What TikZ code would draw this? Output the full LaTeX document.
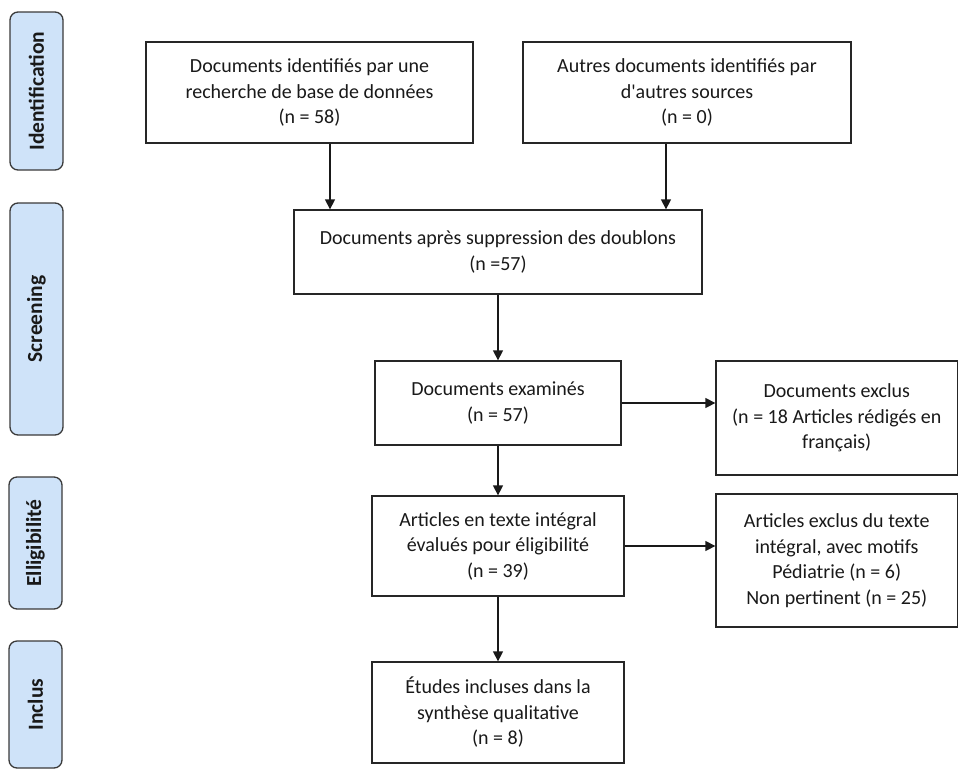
\documentclass[tikz,border=0pt]{standalone}
\usepackage{fontspec}
\setmainfont{Carlito}
\usetikzlibrary{arrows.meta,calc}
\definecolor{tabfill}{HTML}{CFE3F9}
\definecolor{tabline}{HTML}{3A3A3A}
\begin{document}
\begin{tikzpicture}[x=1pt,y=-1pt,
  box/.style={draw=black!85,line width=1.3pt,rectangle,align=center,inner sep=0pt,
    font=\fontsize{20}{25.5}\selectfont,text=black!90},
  tab/.style={draw=tabline,fill=tabfill,line width=1.3pt,rounded corners=8pt,
    minimum width=53pt,inner sep=0pt},
  tablabel/.style={rotate=90,font=\fontsize{21.5}{25}\selectfont\bfseries,text=black!90},
  arr/.style={draw=black!90,line width=1.3pt,-{Triangle[length=10pt,width=10pt]}}]
\useasboundingbox (0,0) rectangle (958,769);
% phase tabs
\node[tab,minimum height=158pt] (t1) at (36.5,91) {};
\node[tablabel] (l1) at (t1.center) {Identification};
\node[tab,minimum height=232pt] (t2) at (36.5,319) {};
\node[tablabel] (l2) at (t2.center) {Screening};
\node[tab,minimum height=132pt] (t3) at (35.5,543) {};
\node[tablabel] (l3) at (t3.center) {Elligibilité};
\node[tab,minimum height=127pt] (t4) at (35.5,704.5) {};
\node[tablabel] (l4) at (t4.center) {Inclus};
% boxes
\node[box,minimum width=327pt,minimum height=101pt] (b1) at (309.5,92.5)
  {Documents identifiés par une\\recherche de base de données\\(n = 58)};
\node[box,minimum width=328pt,minimum height=101pt] (b2) at (687,92.5)
  {Autres documents identifiés par\\d\textquotesingle autres sources\\(n = 0)};
\node[box,minimum width=408pt,minimum height=84pt] (b3) at (498,252)
  {Documents après suppression des doublons\\(n =57)};
\node[box,minimum width=246pt,minimum height=84pt] (b4) at (498,403)
  {Documents examinés\\(n = 57)};
\node[box,minimum width=241.5pt,minimum height=114pt] (b5) at (836.75,418)
  {\raisebox{8pt}{\begin{tabular}{@{}c@{}}Documents exclus\\(n = 18 Articles rédigés en\\français)\end{tabular}}};
\node[box,minimum width=252pt,minimum height=100pt] (b6) at (498,546)
  {Articles en texte intégral\\évalués pour éligibilité\\(n = 39)};
\node[box,minimum width=241.5pt,minimum height=133pt] (b7) at (836.75,560.5)
  {Articles exclus du texte\\intégral, avec motifs\\Pédiatrie (n = 6)\\Non pertinent (n = 25)};
\node[box,minimum width=252pt,minimum height=101pt] (b8) at (498,712.5)
  {Études incluses dans la\\synthèse qualitative\\(n = 8)};
% helper columns
\coordinate (c1) at (330,0);
\coordinate (c2) at (666,0);
% connectors
\draw[arr] (b1.south -| c1) -- (b3.north -| c1);
\draw[arr] (b2.south -| c2) -- (b3.north -| c2);
\draw[arr] (b3.south) -- (b4.north);
\draw[arr] (b4.south) -- (b6.north);
\draw[arr] (b6.south) -- (b8.north);
\draw[arr] (b4.east) -- (b4.east -| b5.west);
\draw[arr] (b6.east) -- (b6.east -| b7.west);
\end{tikzpicture}
\end{document}
